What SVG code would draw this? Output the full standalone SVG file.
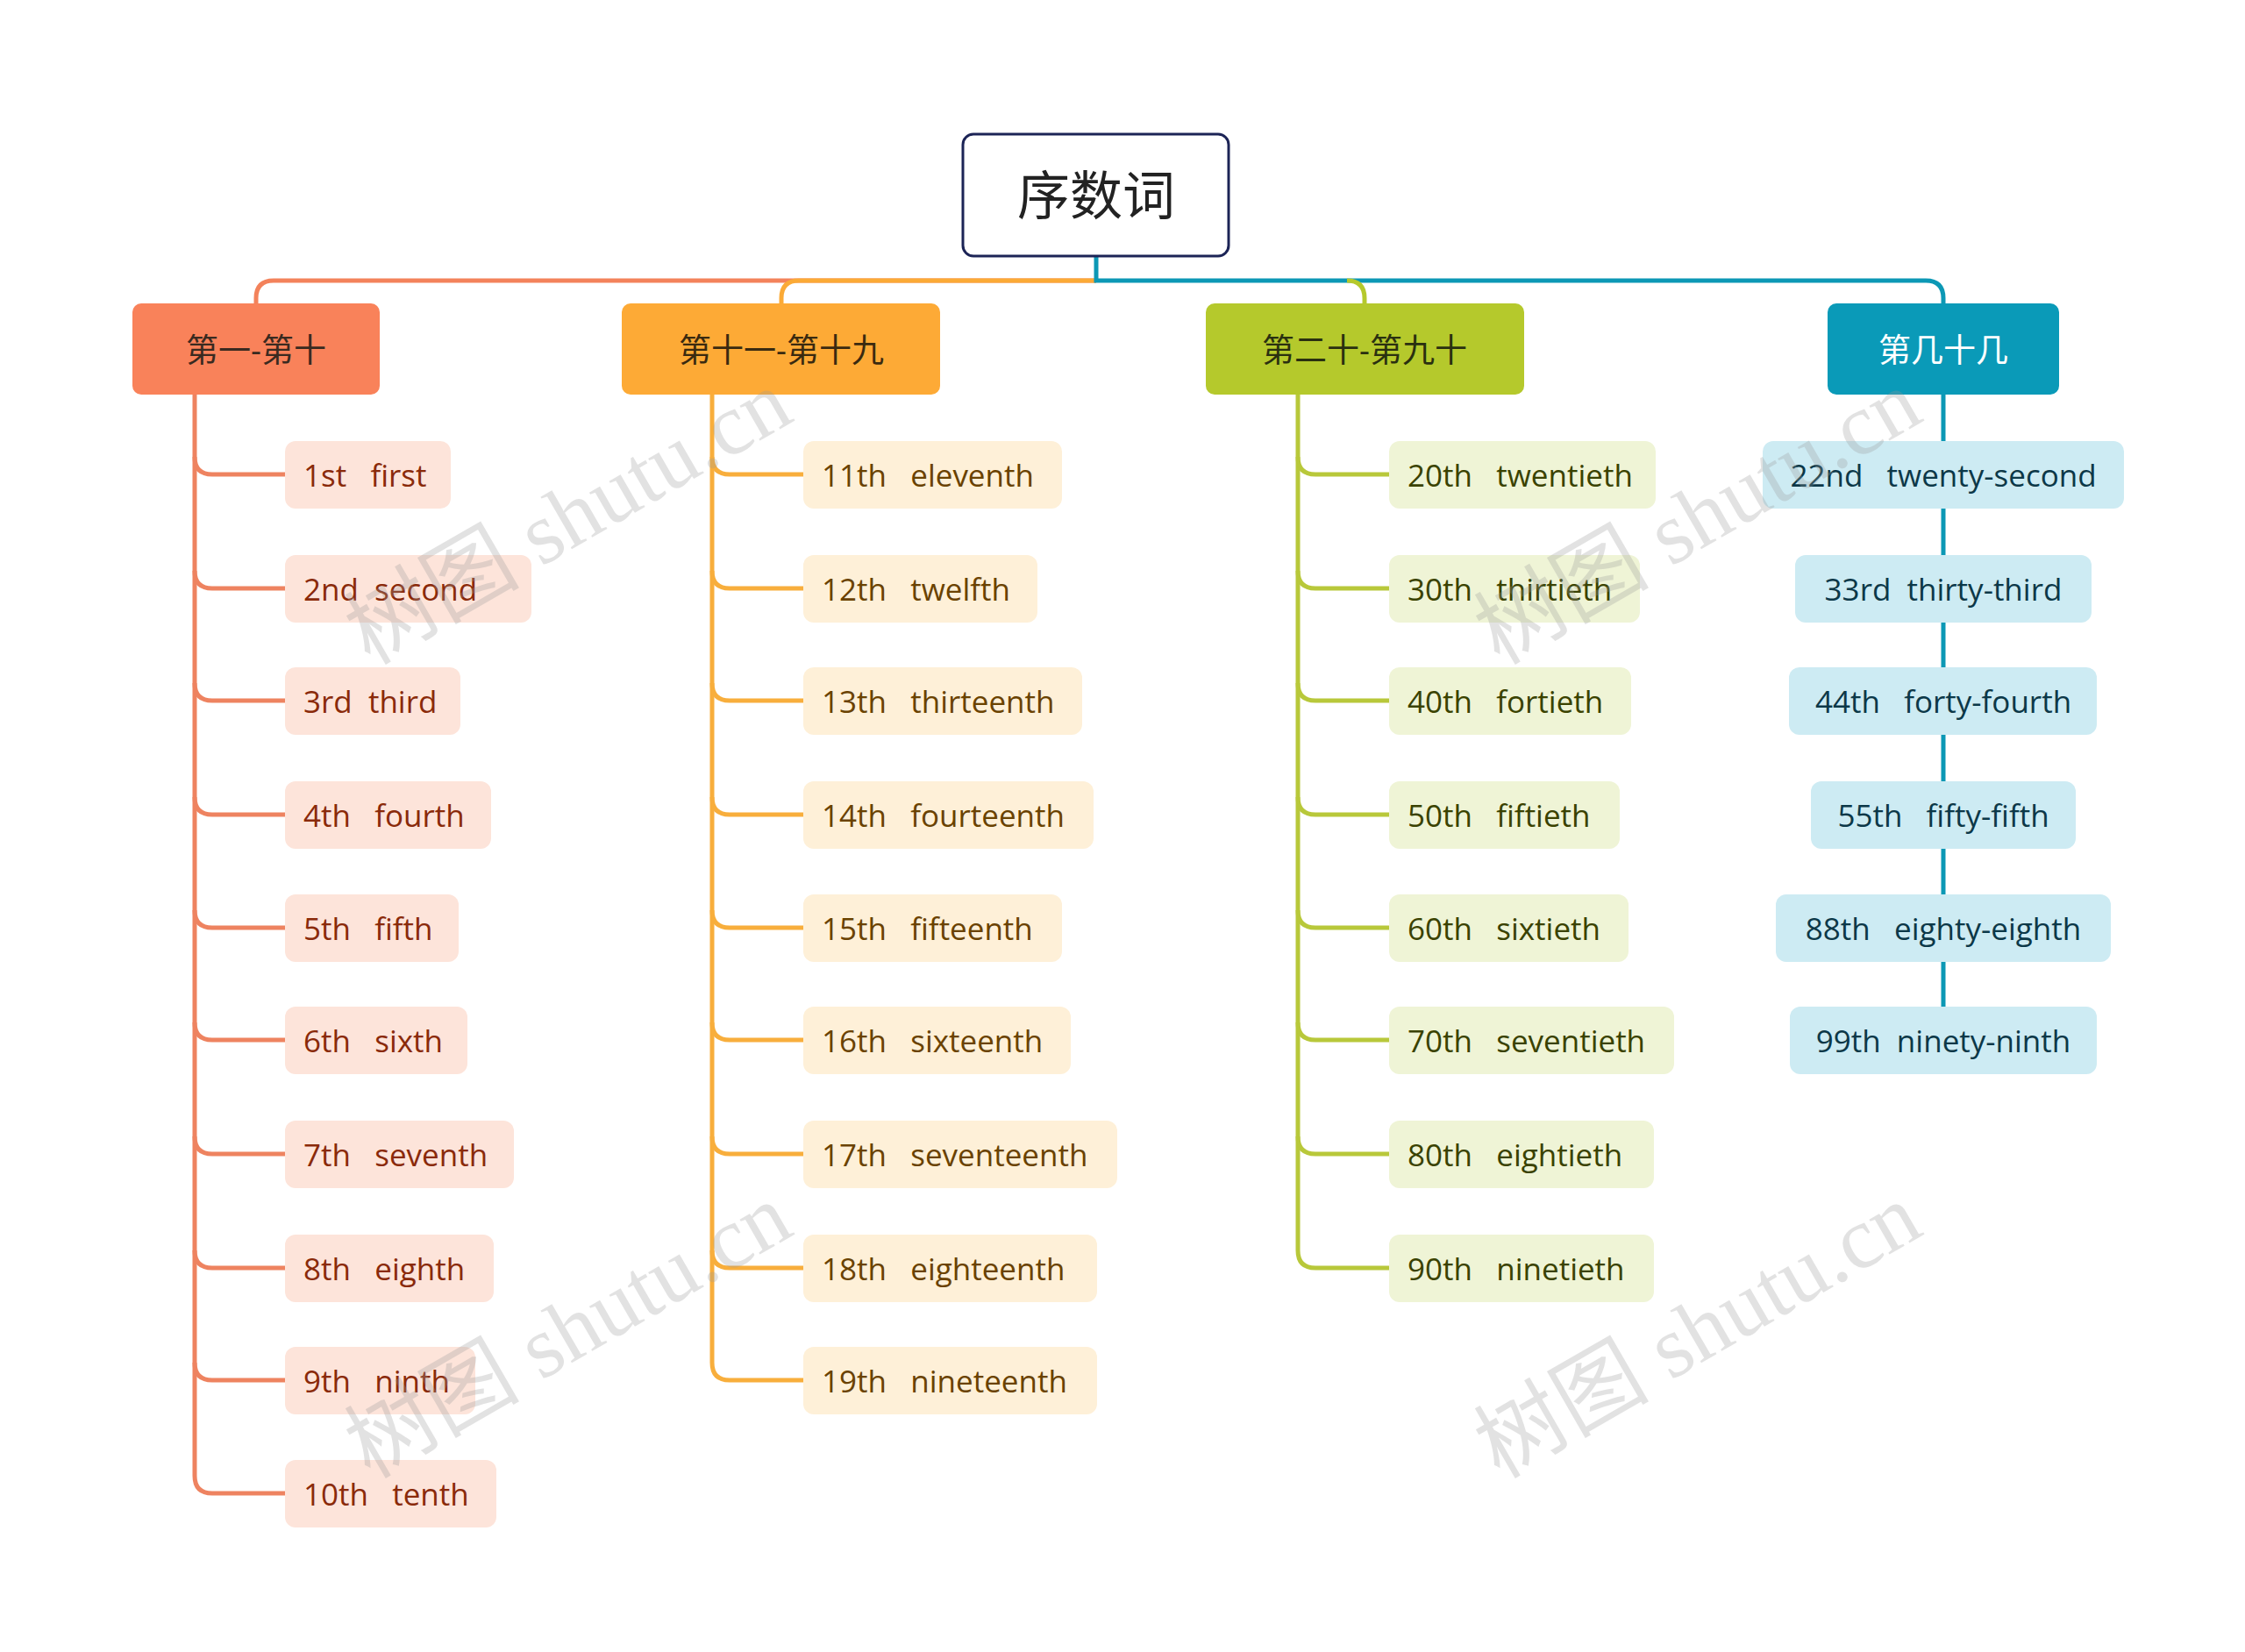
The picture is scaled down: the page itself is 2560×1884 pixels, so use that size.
<svg xmlns="http://www.w3.org/2000/svg" width="2560" height="1884" viewBox="0 0 2560 1884" xml:space="preserve">
<style>
text{font-family:"Open Sans","Noto Sans","Noto Sans CJK SC",sans-serif;dominant-baseline:central;white-space:pre}
.cat{font-size:37px;text-anchor:middle}
.lf{font-size:35px}
.c1 rect{fill:#FDE4DA}.c1 text{fill:#8A2A0A}
.c2 rect{fill:#FEF0D8}.c2 text{fill:#6A4200}
.c3 rect{fill:#EFF4D6}.c3 text{fill:#3A4200}
.c4 rect{fill:#CDEBF3}.c4 text{fill:#0C3848;text-anchor:middle}
.ln{fill:none;stroke-width:5}
.wm{font-family:"Liberation Serif","Noto Sans CJK SC",serif;font-size:100px;fill:#999;opacity:0.28;text-anchor:middle}
</style>
<rect width="2560" height="1884" fill="#fff"/>
<g id="connectors">
<path class="ln" stroke="#F3825B" d="M1250 320 H312 Q292 320 292 340 V346"/>
<path class="ln" stroke="#FBAA36" d="M1250 320 H911 Q891 320 891 340 V346"/>
<path class="ln" stroke="#0C98B5" d="M1250 292 V320 H2196 Q2216 320 2216 340 V346"/>
<path class="ln" stroke="#B5C92C" d="M1536 320 Q1556 320 1556 340 V346"/>
<g stroke="#EE8360" class="ln">
<path d="M222 450 V1683 Q222 1703 242 1703 H325"/>
<path d="M222 521 Q222 541 242 541 H325"/><path d="M222 651 Q222 671 242 671 H325"/><path d="M222 779 Q222 799 242 799 H325"/><path d="M222 909 Q222 929 242 929 H325"/><path d="M222 1038 Q222 1058 242 1058 H325"/><path d="M222 1166 Q222 1186 242 1186 H325"/><path d="M222 1296 Q222 1316 242 1316 H325"/><path d="M222 1426 Q222 1446 242 1446 H325"/><path d="M222 1554 Q222 1574 242 1574 H325"/>
</g>
<g stroke="#F8AE3C" class="ln">
<path d="M812 450 V1554 Q812 1574 832 1574 H916"/>
<path d="M812 521 Q812 541 832 541 H916"/><path d="M812 651 Q812 671 832 671 H916"/><path d="M812 779 Q812 799 832 799 H916"/><path d="M812 909 Q812 929 832 929 H916"/><path d="M812 1038 Q812 1058 832 1058 H916"/><path d="M812 1166 Q812 1186 832 1186 H916"/><path d="M812 1296 Q812 1316 832 1316 H916"/><path d="M812 1426 Q812 1446 832 1446 H916"/>
</g>
<g stroke="#B8C83A" class="ln">
<path d="M1480 450 V1426 Q1480 1446 1500 1446 H1584"/>
<path d="M1480 521 Q1480 541 1500 541 H1584"/><path d="M1480 651 Q1480 671 1500 671 H1584"/><path d="M1480 779 Q1480 799 1500 799 H1584"/><path d="M1480 909 Q1480 929 1500 929 H1584"/><path d="M1480 1038 Q1480 1058 1500 1058 H1584"/><path d="M1480 1166 Q1480 1186 1500 1186 H1584"/><path d="M1480 1296 Q1480 1316 1500 1316 H1584"/>
</g>
<path class="ln" stroke="#0C98B5" stroke-width="7" d="M2216 450 V1150"/>
</g>
<g id="root"><rect x="1098" y="153" width="303" height="139" rx="12" fill="#fff" stroke="#1C2456" stroke-width="3"/><text x="1250" y="222" font-size="60" text-anchor="middle" fill="#222">序数词</text></g>
<g id="cat1"><rect x="151" y="346" width="282" height="104" rx="10" fill="#F9825A"/><text class="cat" x="292" y="398" fill="#3a2a20">第一-第十</text></g>
<g id="cat2"><rect x="709" y="346" width="363" height="104" rx="10" fill="#FDAA36"/><text class="cat" x="891" y="398" fill="#3a2a10">第十一-第十九</text></g>
<g id="cat3"><rect x="1375" y="346" width="363" height="104" rx="10" fill="#B5C92C"/><text class="cat" x="1556" y="398" fill="#2a3010">第二十-第九十</text></g>
<g id="cat4"><rect x="2084" y="346" width="264" height="104" rx="10" fill="#0A9AB8"/><text class="cat" x="2216" y="398" fill="#fff">第几十几</text></g>
<g class="c1">
<g id="n1"><rect x="325" y="503" width="189" height="77" rx="12"/><text class="lf" x="346" y="541">1st   first</text></g>
<g id="n2"><rect x="325" y="633" width="281" height="77" rx="12"/><text class="lf" x="346" y="671">2nd  second</text></g>
<g id="n3"><rect x="325" y="761" width="200" height="77" rx="12"/><text class="lf" x="346" y="799">3rd  third</text></g>
<g id="n4"><rect x="325" y="891" width="235" height="77" rx="12"/><text class="lf" x="346" y="929">4th   fourth</text></g>
<g id="n5"><rect x="325" y="1020" width="198" height="77" rx="12"/><text class="lf" x="346" y="1058">5th   fifth</text></g>
<g id="n6"><rect x="325" y="1148" width="208" height="77" rx="12"/><text class="lf" x="346" y="1186">6th   sixth</text></g>
<g id="n7"><rect x="325" y="1278" width="261" height="77" rx="12"/><text class="lf" x="346" y="1316">7th   seventh</text></g>
<g id="n8"><rect x="325" y="1408" width="238" height="77" rx="12"/><text class="lf" x="346" y="1446">8th   eighth</text></g>
<g id="n9"><rect x="325" y="1536" width="217" height="77" rx="12"/><text class="lf" x="346" y="1574">9th   ninth</text></g>
<g id="n10"><rect x="325" y="1665" width="241" height="77" rx="12"/><text class="lf" x="346" y="1703">10th   tenth</text></g>
</g>
<g class="c2">
<g id="n11"><rect x="916" y="503" width="295" height="77" rx="12"/><text class="lf" x="937" y="541">11th   eleventh</text></g>
<g id="n12"><rect x="916" y="633" width="267" height="77" rx="12"/><text class="lf" x="937" y="671">12th   twelfth</text></g>
<g id="n13"><rect x="916" y="761" width="318" height="77" rx="12"/><text class="lf" x="937" y="799">13th   thirteenth</text></g>
<g id="n14"><rect x="916" y="891" width="331" height="77" rx="12"/><text class="lf" x="937" y="929">14th   fourteenth</text></g>
<g id="n15"><rect x="916" y="1020" width="295" height="77" rx="12"/><text class="lf" x="937" y="1058">15th   fifteenth</text></g>
<g id="n16"><rect x="916" y="1148" width="305" height="77" rx="12"/><text class="lf" x="937" y="1186">16th   sixteenth</text></g>
<g id="n17"><rect x="916" y="1278" width="358" height="77" rx="12"/><text class="lf" x="937" y="1316">17th   seventeenth</text></g>
<g id="n18"><rect x="916" y="1408" width="335" height="77" rx="12"/><text class="lf" x="937" y="1446">18th   eighteenth</text></g>
<g id="n19"><rect x="916" y="1536" width="335" height="77" rx="12"/><text class="lf" x="937" y="1574">19th   nineteenth</text></g>
</g>
<g class="c3">
<g id="n20"><rect x="1584" y="503" width="304" height="77" rx="12"/><text class="lf" x="1605" y="541">20th   twentieth</text></g>
<g id="n30"><rect x="1584" y="633" width="286" height="77" rx="12"/><text class="lf" x="1605" y="671">30th   thirtieth</text></g>
<g id="n40"><rect x="1584" y="761" width="276" height="77" rx="12"/><text class="lf" x="1605" y="799">40th   fortieth</text></g>
<g id="n50"><rect x="1584" y="891" width="263" height="77" rx="12"/><text class="lf" x="1605" y="929">50th   fiftieth</text></g>
<g id="n60"><rect x="1584" y="1020" width="273" height="77" rx="12"/><text class="lf" x="1605" y="1058">60th   sixtieth</text></g>
<g id="n70"><rect x="1584" y="1148" width="325" height="77" rx="12"/><text class="lf" x="1605" y="1186">70th   seventieth</text></g>
<g id="n80"><rect x="1584" y="1278" width="302" height="77" rx="12"/><text class="lf" x="1605" y="1316">80th   eightieth</text></g>
<g id="n90"><rect x="1584" y="1408" width="302" height="77" rx="12"/><text class="lf" x="1605" y="1446">90th   ninetieth</text></g>
</g>
<g class="c4">
<g id="n22"><rect x="2010" y="503" width="412" height="77" rx="12"/><text class="lf" x="2216" y="541">22nd   twenty-second</text></g>
<g id="n33"><rect x="2047" y="633" width="338" height="77" rx="12"/><text class="lf" x="2216" y="671">33rd  thirty-third</text></g>
<g id="n44"><rect x="2040" y="761" width="351" height="77" rx="12"/><text class="lf" x="2216" y="799">44th   forty-fourth</text></g>
<g id="n55"><rect x="2065" y="891" width="302" height="77" rx="12"/><text class="lf" x="2216" y="929">55th   fifty-fifth</text></g>
<g id="n88"><rect x="2025" y="1020" width="382" height="77" rx="12"/><text class="lf" x="2216" y="1058">88th   eighty-eighth</text></g>
<g id="n99"><rect x="2041" y="1148" width="350" height="77" rx="12"/><text class="lf" x="2216" y="1186">99th  ninety-ninth</text></g>
</g>
<g id="watermark">
<text class="wm" transform="translate(648,590) rotate(-30)">树图 shutu.cn</text>
<text class="wm" transform="translate(648,1518) rotate(-30)">树图 shutu.cn</text>
<text class="wm" transform="translate(1936,590) rotate(-30)">树图 shutu.cn</text>
<text class="wm" transform="translate(1936,1518) rotate(-30)">树图 shutu.cn</text>
</g>
</svg>
